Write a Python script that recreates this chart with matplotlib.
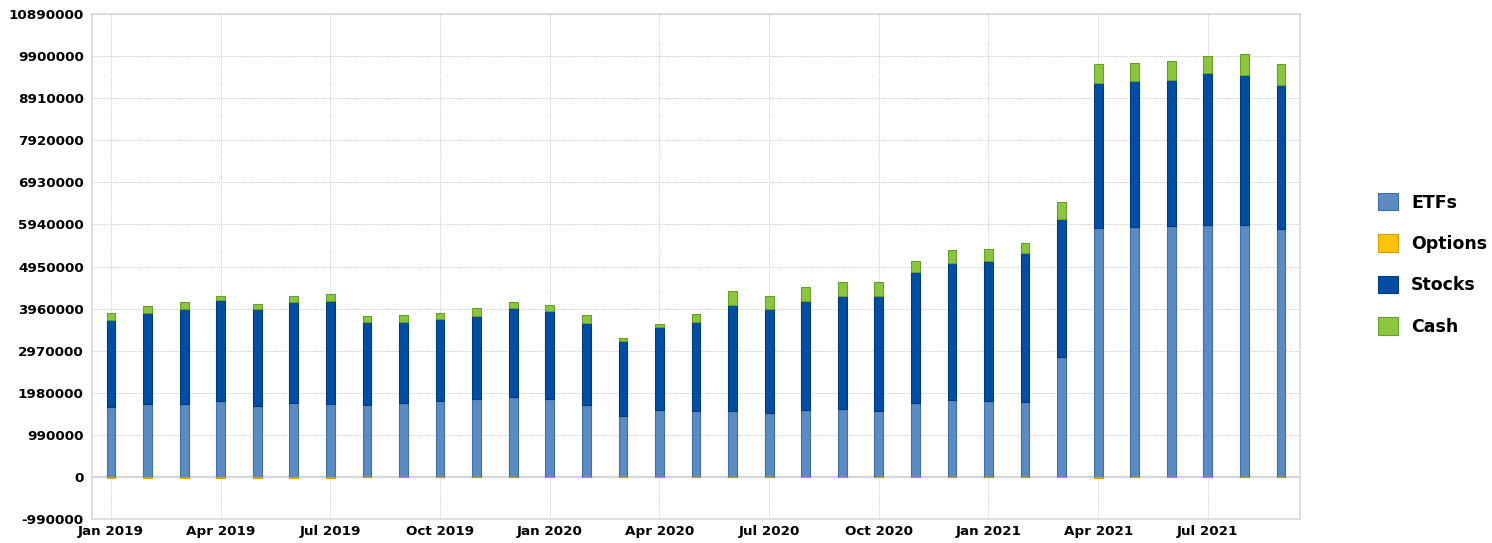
import numpy as np
import matplotlib
matplotlib.use('Agg')
import matplotlib.pyplot as plt
from matplotlib.patches import Patch
from matplotlib.ticker import FuncFormatter

# monthly snapshots, Jan 2019 .. Sep 2021
months = ['Jan 2019', 'Feb 2019', 'Mar 2019', 'Apr 2019', 'May 2019', 'Jun 2019',
          'Jul 2019', 'Aug 2019', 'Sep 2019', 'Oct 2019', 'Nov 2019', 'Dec 2019',
          'Jan 2020', 'Feb 2020', 'Mar 2020', 'Apr 2020', 'May 2020', 'Jun 2020',
          'Jul 2020', 'Aug 2020', 'Sep 2020', 'Oct 2020', 'Nov 2020', 'Dec 2020',
          'Jan 2021', 'Feb 2021', 'Mar 2021', 'Apr 2021', 'May 2021', 'Jun 2021',
          'Jul 2021', 'Aug 2021', 'Sep 2021']

etfs = [1634000, 1721000, 1721000, 1776000, 1674000, 1744000, 1721000, 1697000,
        1744000, 1776000, 1823000, 1886000, 1823000, 1697000, 1430000, 1571000,
        1556000, 1540000, 1493000, 1571000, 1595000, 1540000, 1729000, 1815000,
        1792000, 1768000, 2822000, 5854000, 5877000, 5893000, 5932000, 5916000,
        5830000]

options = [-20000, -20000, -20000, -20000, -20000, -20000, -20000, 0, 0, 0, 0, 0,
           0, 0, 0, 0, 0, 0, 0, 0, 0, 0, 0, 0, 0, 0, 0, -20000, 0, 0, 0, 0, 0]

# cumulative tops, converted to segment sizes below
stocks_top = [3693000, 3850000, 3960000, 4156000, 3944000, 4109000, 4133000, 3646000,
              3646000, 3709000, 3795000, 3976000, 3897000, 3622000, 3198000, 3536000,
              3638000, 4054000, 3960000, 4141000, 4266000, 4266000, 4809000, 5044000,
              5091000, 5256000, 6075000, 9269000, 9317000, 9341000, 9501000, 9461000,
              9229000]
cash_top = [3866000, 4015000, 4117000, 4266000, 4078000, 4266000, 4306000, 3787000,
            3803000, 3866000, 3976000, 4117000, 4054000, 3803000, 3269000, 3606000,
            3842000, 4384000, 4259000, 4471000, 4596000, 4596000, 5091000, 5343000,
            5366000, 5500000, 6467000, 9708000, 9748000, 9796000, 9900000, 9940000,
            9724000]

etfs = np.array(etfs)
options = np.array(options)
stocks = np.array(stocks_top) - etfs
cash = np.array(cash_top) - np.array(stocks_top)

colors = {'ETFs': '#5b8bc2', 'Options': '#ffc20e', 'Stocks': '#034ea2', 'Cash': '#8cc63f'}
edges = {'ETFs': '#3f6fa3', 'Options': '#d9a000', 'Stocks': '#023a7a', 'Cash': '#6a9e2a'}

fig = plt.figure(figsize=(14.92, 5.43), dpi=100)
ax = fig.add_axes([0.0617, 0.0442, 0.8096, 0.9300])

x = np.arange(len(months))
w = 0.24
kw = dict(width=w, linewidth=0.8, zorder=3)
ax.bar(x, etfs, color=colors['ETFs'], edgecolor=edges['ETFs'], **kw)
ax.bar(x, options, color=colors['Options'], edgecolor=edges['Options'], **kw)
ax.bar(x, stocks, bottom=etfs, color=colors['Stocks'], edgecolor=edges['Stocks'], **kw)
ax.bar(x, cash, bottom=etfs + stocks, color=colors['Cash'], edgecolor=edges['Cash'], **kw)

step = 990000
ax.set_ylim(-step, 11 * step)
ax.set_yticks(np.arange(-step, 11 * step + 1, step))
ax.yaxis.set_major_formatter(FuncFormatter(lambda v, pos: '%d' % round(v)))
ax.set_xlim(-0.52, len(months) - 1 + 0.52)
ax.set_xticks(x[::3])
ax.set_xticklabels(months[::3])

for lab in ax.get_xticklabels() + ax.get_yticklabels():
    lab.set_fontweight('bold')
ax.tick_params(axis='both', length=0, labelsize=9.7, colors='black')
ax.tick_params(axis='y', pad=6)
ax.tick_params(axis='x', pad=4)

ax.grid(True, color='#cccccc', linestyle=(0, (1, 1)), linewidth=0.7, zorder=0)
ax.axhline(0, color='#d3d7da', linewidth=1.6, zorder=2)
for s in ax.spines.values():
    s.set_color('#d8d8d8')
    s.set_linewidth(1.2)

handles = [Patch(facecolor=colors[k], edgecolor=edges[k], linewidth=0.8, label=k)
           for k in ['ETFs', 'Options', 'Stocks', 'Cash']]
fig.legend(handles=handles, loc='center left', bbox_to_anchor=(0.919, 0.513),
           frameon=False, prop={'weight': 'bold', 'size': 12.5},
           handlelength=1.15, handleheight=1.15, handletextpad=0.75,
           labelspacing=1.32, borderaxespad=0)

fig.savefig('out.png', dpi=100)
